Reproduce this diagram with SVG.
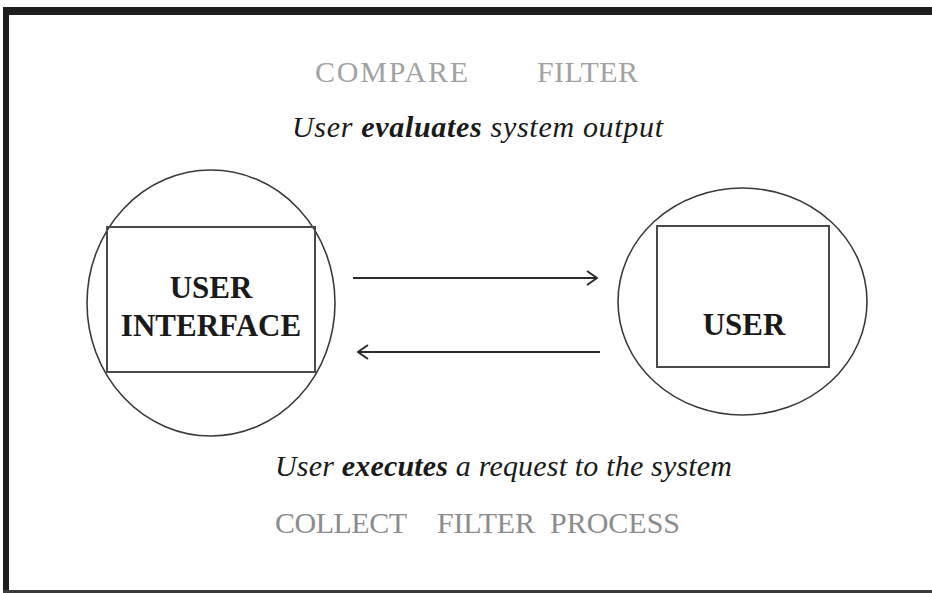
<svg xmlns="http://www.w3.org/2000/svg" width="932" height="593" viewBox="0 0 932 593">
  <style>
    .frame { fill: #1e1e1e; }
    .ring { fill: none; stroke: #3a3a3a; stroke-width: 1.6; }
    .box { fill: none; stroke: #4a4a4a; stroke-width: 2; }
    .label { font-family: "Liberation Serif", "Times New Roman", serif; font-weight: bold; font-size: 31px; fill: #1a1a1a; text-anchor: middle; }
    .verb { font-family: "Liberation Serif", "Times New Roman", serif; font-size: 30px; fill: #8c8c8c; }
    .note { font-family: "Liberation Serif", "Times New Roman", serif; font-style: italic; font-size: 30px; fill: #1a1a1a; }
    .note .b { font-weight: bold; }
    .link { fill: none; stroke: #2a2a2a; stroke-width: 2; }
  </style>
  <defs>
    <marker id="head" viewBox="0 0 12 16" refX="11" refY="8" markerWidth="12" markerHeight="16" markerUnits="userSpaceOnUse" orient="auto">
      <path d="M1,1 L11,8 L1,15" fill="none" stroke="#2a2a2a" stroke-width="2"/>
    </marker>
  </defs>

  <rect width="932" height="593" fill="#ffffff"/>

  <!-- outer frame -->
  <g id="frame">
    <rect class="frame" x="4" y="7" width="928" height="8"/>
    <rect class="frame" x="3" y="7" width="6" height="586"/>
    <rect x="3" y="590" width="929" height="3" fill="#3a3a3a"/>
  </g>

  <!-- evaluation phase -->
  <g id="evaluate-verbs">
    <text class="verb" x="315" y="82" textLength="153" lengthAdjust="spacing" fill="#a2a2a2" style="fill:#a2a2a2">COMPARE</text>
    <text class="verb" x="537" y="82" textLength="101" lengthAdjust="spacing" style="fill:#a2a2a2">FILTER</text>
  </g>
  <g id="evaluate-note">
    <text class="note" x="292" y="137" textLength="371" lengthAdjust="spacing">User <tspan class="b">evaluates</tspan> system output</text>
  </g>

  <!-- user interface node -->
  <g id="user-interface">
    <ellipse class="ring" cx="211" cy="303" rx="124" ry="133"/>
    <rect class="box" x="107" y="227" width="208" height="145"/>
    <text class="label" x="211" y="298">USER</text>
    <text class="label" x="211" y="336">INTERFACE</text>
  </g>

  <!-- user node -->
  <g id="user">
    <ellipse class="ring" cx="742.5" cy="301.5" rx="124.5" ry="113.5"/>
    <rect class="box" x="657" y="226" width="172" height="141"/>
    <text class="label" x="744" y="335">USER</text>
  </g>

  <!-- connectors -->
  <g id="connectors">
    <line class="link" x1="353" y1="278" x2="597" y2="278" marker-end="url(#head)"/>
    <line class="link" x1="600" y1="352" x2="358" y2="352" marker-end="url(#head)"/>
  </g>

  <!-- execution phase -->
  <g id="execute-note">
    <text class="note" x="275" y="476" textLength="457" lengthAdjust="spacing">User <tspan class="b">executes</tspan> a request to the system</text>
  </g>
  <g id="execute-verbs">
    <text class="verb" x="275" y="533" textLength="132" lengthAdjust="spacing">COLLECT</text>
    <text class="verb" x="437" y="533" textLength="98" lengthAdjust="spacing">FILTER</text>
    <text class="verb" x="550" y="533" textLength="130" lengthAdjust="spacing">PROCESS</text>
  </g>
</svg>
